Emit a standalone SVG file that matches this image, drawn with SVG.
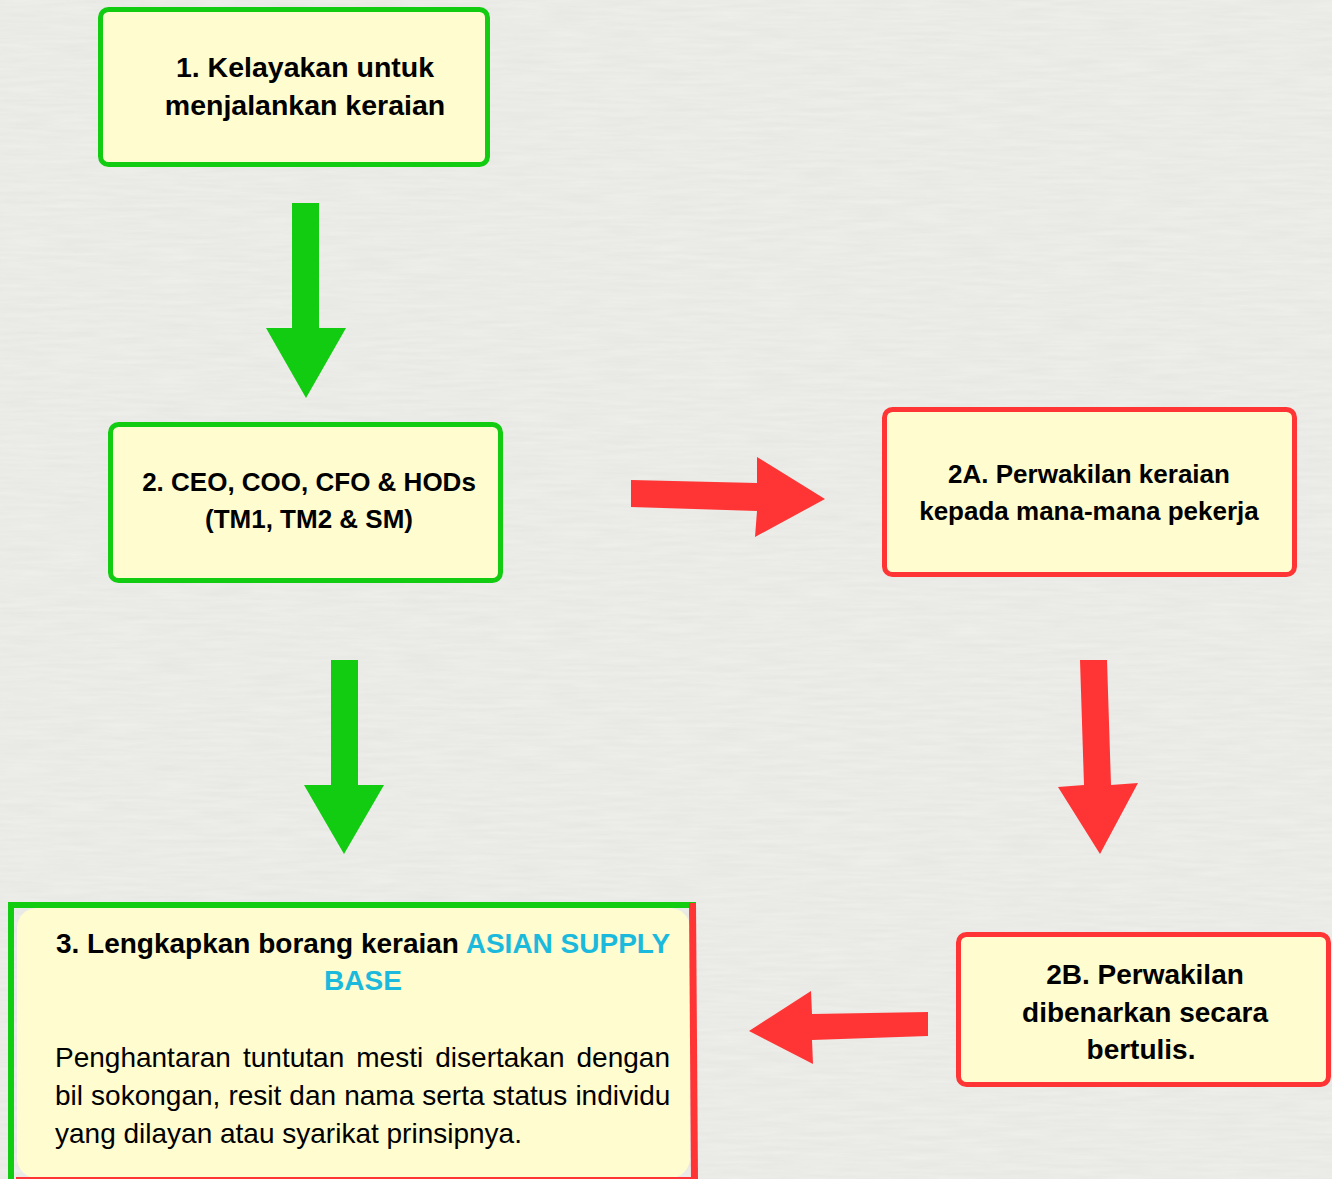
<svg xmlns="http://www.w3.org/2000/svg" width="1332" height="1179" viewBox="0 0 1332 1179">
  <defs>
    <filter id="paper" x="0" y="0" width="100%" height="100%">
      <feTurbulence type="fractalNoise" baseFrequency="0.02 0.25" numOctaves="3" seed="4" result="n"/>
      <feColorMatrix in="n" type="matrix" values="0 0 0 0 0.5  0 0 0 0 0.5  0 0 0 0 0.48  0 0 0 0.18 0"/>
    </filter>
    <style>
      .box { fill: #fffcd0; stroke-width: 5; }
      .g { stroke: #12cc12; }
      .r { stroke: #ff3535; }
      .ga { fill: #12cc12; }
      .ra { fill: #ff3535; }
      .t { font-family: "Liberation Sans", Arial, sans-serif; font-weight: bold; fill: #000; text-anchor: middle; }
      .cy { fill: #1bbadc; }
      .body { font-family: "Liberation Sans", Arial, sans-serif; font-size: 28px; fill: #000; }
    </style>
  </defs>

  <rect width="1332" height="1179" fill="#efefeb"/>
  <rect width="1332" height="1179" filter="url(#paper)"/>

  <g id="connectors">
    <polygon class="ga" points="292,203 319,203 319,328 346,328 306,398 266,328 292,328"/>
    <polygon class="ga" points="331,660 358,660 358,785 384,785 344,854 304,785 331,785"/>
    <polygon class="ra" points="631,480 757,483 757,457 825,499 755,537 757,511 631,507"/>
    <polygon class="ra" points="1080,660 1107,660 1111,785 1138,783 1100,854 1058,787 1084,785"/>
    <polygon class="ra" points="928,1012 812,1014 811,991 749,1031 813,1064 812,1040 928,1036"/>
  </g>

  <g id="node1">
    <rect class="box g" x="100.5" y="9.5" width="387" height="155" rx="8"/>
    <text class="t" font-size="28.5" x="305" y="77">1. Kelayakan untuk</text>
    <text class="t" font-size="28.5" x="305" y="115">menjalankan keraian</text>
  </g>

  <g id="node2">
    <rect class="box g" x="110.5" y="424.5" width="390" height="156" rx="8"/>
    <text class="t" font-size="26" x="309" y="491">2. CEO, COO, CFO &amp; HODs</text>
    <text class="t" font-size="26" x="309" y="528">(TM1, TM2 &amp; SM)</text>
  </g>

  <g id="node2A">
    <rect class="box r" x="884.5" y="409.5" width="410" height="165" rx="8"/>
    <text class="t" font-size="26" x="1089" y="483">2A. Perwakilan keraian</text>
    <text class="t" font-size="26" x="1089" y="520">kepada mana-mana pekerja</text>
  </g>

  <g id="node2B">
    <rect class="box r" x="958.5" y="934.5" width="370" height="150" rx="8"/>
    <text class="t" font-size="28" x="1145" y="984">2B. Perwakilan</text>
    <text class="t" font-size="28" x="1145" y="1022">dibenarkan secara</text>
    <text class="t" font-size="28" x="1141" y="1059">bertulis.</text>
  </g>

  <g id="node3">
    <rect x="17" y="908" width="673" height="270" rx="20" fill="#fffcd0"/>
    <rect x="8" y="902" width="688" height="6" fill="#12cc12"/>
    <rect x="8" y="903" width="6" height="276" fill="#12cc12"/>
    <polygon points="689,903 696,903 698,1179 691,1179" fill="#ff3535"/>
    <rect x="16" y="1177" width="676" height="2" fill="#ff3535"/>
    <text class="t" font-size="28" x="363" y="953">3. Lengkapkan borang keraian <tspan class="cy">ASIAN SUPPLY</tspan></text>
    <text class="t cy" font-size="28" x="363" y="990">BASE</text>
    <text class="body" x="55" y="1067" word-spacing="4.3">Penghantaran tuntutan mesti disertakan dengan</text>
    <text class="body" x="55" y="1105" word-spacing="0.3">bil sokongan, resit dan nama serta status individu</text>
    <text class="body" x="55" y="1143">yang dilayan atau syarikat prinsipnya.</text>
  </g>
</svg>
